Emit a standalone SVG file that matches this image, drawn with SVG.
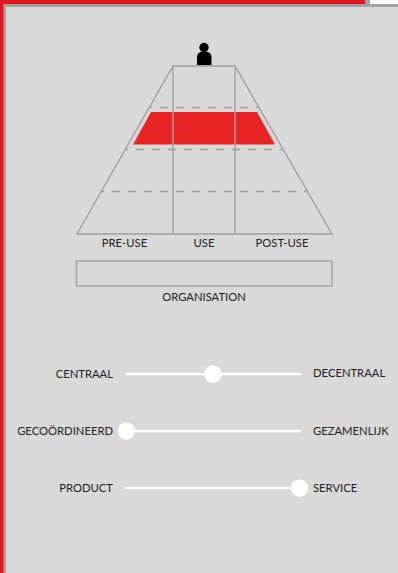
<svg xmlns="http://www.w3.org/2000/svg" width="398" height="573" viewBox="0 0 398 573">
<style>
.t{font-family:Lato,"Open Sans",sans-serif;font-size:11.25px;fill:#222}
.m{text-anchor:middle}.e{text-anchor:end}
.o{fill:none;stroke:#a0a0a0;stroke-width:1.4}
.d{fill:none;stroke:#a0a0a0;stroke-width:1.6;stroke-dasharray:8 8;stroke-dashoffset:5}
.s{stroke:#fff;stroke-width:2.6;stroke-linecap:round;fill:none}
.k{fill:#fff}
</style>
<rect width="398" height="573" fill="#d9d9d9"/>
<rect x="370" width="28" height="4" fill="#fff"/>
<rect x="365" width="5" height="6" fill="#a3a3a3"/>
<rect x="3" y="4" width="395" height="3" fill="#a3a3a3"/>
<rect x="3" y="4" width="3" height="569" fill="#a3a3a3"/>
<rect width="365" height="4" fill="#e3161f"/>
<rect width="3.400" height="573" fill="#e3161f"/>
<g id="focus-band"><polygon points="151,112 257,112 275,144.500 133,144.500" fill="#e82324"/></g>
<g id="pyramid">
<path class="o" d="M77 234 L173 66 H235 L332 234 Z M173 66 V234 M235 66 V234"/>
<path class="d" d="M149 107.500 H260 M125 149.500 H284 M101 191.500 H308"/>
</g>
<g id="person">
<circle cx="204" cy="47.500" r="4.700" fill="#000"/>
<path d="M197 65 V57 Q197 51.500 204 51.500 Q211.500 51.500 211.500 57 V65 Z" fill="#000"/>
</g>
<g id="labels">
<text class="t m" x="124.500" y="247">PRE-USE</text>
<text class="t m" x="204" y="247">USE</text>
<text class="t m" x="282" y="247">POST-USE</text>
</g>
<g id="organisation">
<rect class="o" x="76.500" y="261" width="255.500" height="25"/>
<text class="t m" x="204" y="301">ORGANISATION</text>
</g>
<g id="slider-1">
<text class="t e" x="113" y="378">CENTRAAL</text>
<path class="s" d="M126 374 H300"/>
<circle class="k" cx="213" cy="374" r="8.700"/>
<text class="t" x="313" y="377">DECENTRAAL</text>
</g>
<g id="slider-2">
<text class="t e" x="113" y="435">GECOÖRDINEERD</text>
<path class="s" d="M126 431 H300"/>
<circle class="k" cx="126.500" cy="431" r="8.700"/>
<text class="t" x="313" y="435">GEZAMENLIJK</text>
</g>
<g id="slider-3">
<text class="t e" x="113" y="492">PRODUCT</text>
<path class="s" d="M126 488 H300"/>
<circle class="k" cx="299.500" cy="488" r="8.700"/>
<text class="t" x="313" y="492">SERVICE</text>
</g>
</svg>
